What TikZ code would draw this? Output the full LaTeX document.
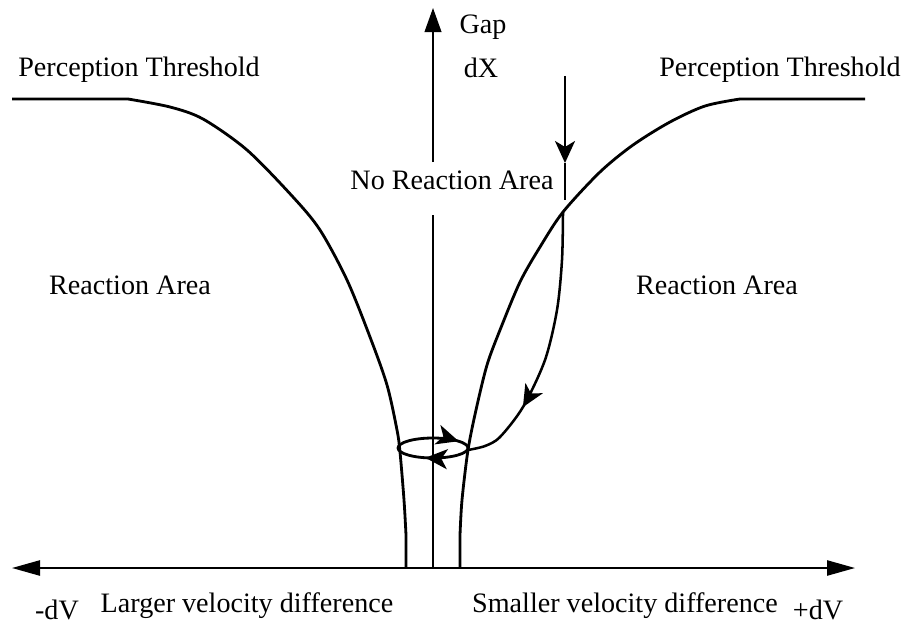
\documentclass[tikz,border=0pt]{standalone}
\usepackage{fontspec}
\setmainfont{Liberation Serif}
\usetikzlibrary{arrows.meta, decorations.markings}
\tikzset{
    thrcurve/.style={line width=2pt, line join=round},
    axisline/.style={line width=1.3pt},
    pathline/.style={line width=1.8pt, line join=round},
    txt/.style={font=\fontsize{20}{24}\selectfont, inner sep=0pt},
    midarrow/.style={postaction={decorate}, decoration={markings,
        mark=at position #1 with {\arrow{Stealth[length=5.5mm,width=5mm,inset=1.5mm]}}}}
}

\begin{document}
\begin{tikzpicture}[x=0.025cm, y=-0.025cm]
    \useasboundingbox (0,0) rectangle (907,624);

    % Axes
    \coordinate (origin) at (433,568);
    \coordinate (xleft) at (12,568);
    \coordinate (xright) at (855,568);
    \coordinate (ytop) at (433,8);
    \coordinate (gaptop) at (433,162);
    \coordinate (gapbot) at (433,215);
    \draw[axisline, {Triangle[length=7mm,width=3.8mm]}-{Triangle[length=7mm,width=3.8mm]}] (xleft) -- (xright);
    \draw[line width=1pt] (origin) -- (gapbot);
    \draw[line width=1pt, -{Triangle[length=6mm,width=4.2mm]}] (gaptop) -- (ytop);

    % Perception threshold, left side
    \draw[thrcurve] (12,99) -- plot[smooth] coordinates {(128,99) (170,107) (203,119) (247,150)
        (293,197) (320,230) (347,280) (370,337) (387,385) (397,430) (400,452) (404,500) (406,535)}
        -- (406,568);

    % Perception threshold, right side
    \draw[thrcurve] (865,99) -- plot[smooth] coordinates {(740,99) (705,106) (670,122) (633,145)
        (600,172) (563,212) (540,247) (520,282) (500,330) (487,365) (476,410) (468,450) (462,500) (460,535)}
        -- (460,568);

    % Approach from above
    \coordinate (drop) at (565,76);
    \coordinate (hit) at (563,212);
    \draw[pathline, -{Stealth[length=5.5mm,width=5mm,inset=1.5mm]}] (drop) -- (565,163) coordinate (tip);
    \draw[line width=0.8pt] (tip) -- (565,200);

    % Trajectory into the loop
    \draw[pathline, midarrow=0.735] plot[smooth] coordinates {(hit) (562,260) (557,310) (545,360)
        (523,407) (500,437) (485,446) (468,450)};

    % Loop
    \coordinate (loop) at (433,448);
    \draw[thrcurve, postaction={decorate}, decoration={markings,
        mark=at position 0.3 with {\arrow{Stealth[length=5.5mm,width=5mm,inset=1.5mm]}},
        mark=at position 0.92 with {\arrow{Stealth[length=5.5mm,width=5mm,inset=1.5mm]}}}]
        (loop) ellipse [x radius=35, y radius=10];

    % Labels
    \node[txt] (thrL) at (139,70) {Perception Threshold};
    \node[txt] (thrR) at (780,70) {Perception Threshold};
    \node[txt] (gap) at (483,27) {Gap};
    \node[txt] (dx) at (481,68) {dX};
    \node[txt] (noreact) at (452,180) {No Reaction Area};
    \node[txt] (reactL) at (130,285) {Reaction Area};
    \node[txt] (reactR) at (717,285) {Reaction Area};
    \node[txt] (minusdv) at (57,610) {-dV};
    \node[txt] (larger) at (247,606) {Larger velocity difference};
    \node[txt] (smaller) at (625,606) {Smaller velocity difference};
    \node[txt] (plusdv) at (818,610) {+dV};
\end{tikzpicture}
\end{document}
